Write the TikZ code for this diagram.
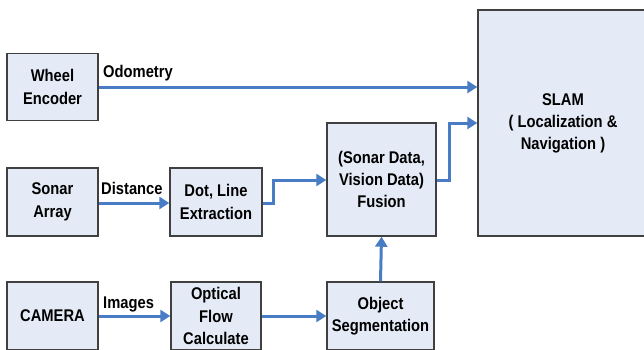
\documentclass[tikz,border=0pt]{standalone}
\usepackage{fontspec}
\setmainfont{Liberation Sans}[FakeStretch=0.87]
\usetikzlibrary{arrows.meta}
\definecolor{boxfill}{RGB}{229,235,246}
\definecolor{boxline}{RGB}{64,64,64}
\definecolor{arrowblue}{RGB}{72,124,196}
\tikzset{
  blk/.style={draw=boxline, fill=boxfill, line width=1.4bp, inner sep=0pt, align=center,
    font=\bfseries\fontsize{17}{22.5}\selectfont},
  lbl/.style={inner sep=0pt, anchor=base west, font=\bfseries\fontsize{17}{22}\selectfont},
  flow/.style={draw=arrowblue, line width=3bp, -{Triangle[length=10bp,width=12bp]}},
}
\begin{document}
\begin{tikzpicture}[x=1bp,y=-1bp]
\useasboundingbox (0,0) rectangle (644,349);
\clip (0,0) rectangle (644,349);
% boxes
\node[blk, minimum width=91bp, minimum height=67bp] (we) at (52.5,87) {Wheel\\Encoder};
\node[blk, minimum width=91bp, minimum height=68bp] (sa) at (52.5,202) {Sonar\\Array};
\node[blk, minimum width=91bp, minimum height=68bp] (cam) at (52.5,316) {CAMERA};
\node[blk, minimum width=92bp, minimum height=68bp] (dot) at (216,202) {Dot, Line\\Extraction};
\node[blk, minimum width=90bp, minimum height=68bp] (of) at (216,316) {Optical\\Flow\\Calculate};
\node[blk, minimum width=109bp, minimum height=113bp] (fus) at (381.5,179.5) {(Sonar Data,\\Vision Data)\\Fusion};
\node[blk, minimum width=107bp, minimum height=68bp] (obj) at (380.5,316) {Object\\Segmentation};
\node[blk, minimum width=180bp, minimum height=226bp] (slam) at (568,123) {};
\node[inner sep=0pt, align=center, font=\bfseries\fontsize{17}{22}\selectfont] (slamtxt) at (563,123) {SLAM\\( Localization \&\\Navigation )};
% connectors
\draw[flow] (we.east |- 0,87) -- (slam.west |- 0,87);
\draw[flow] (sa.east |- 0,203) -- (dot.west |- 0,203);
\draw[flow] (dot.east |- 0,203) -- (273,203) -- (273,180) -- (fus.west |- 0,180);
\draw[flow] (fus.east |- 0,180) -- (449,180) -- (449,123) -- (slam.west |- 0,123);
\draw[flow] (cam.east |- 0,316) -- (of.west |- 0,316);
\draw[flow] (of.east |- 0,316) -- (obj.west |- 0,316);
\draw[flow] (obj.north) -- (fus.south);
% labels
\node[lbl] (odo) at (103,77) {Odometry};
\node[lbl] (dist) at (101,194) {Distance};
\node[lbl] (img) at (103,308) {Images};
\end{tikzpicture}
\end{document}
